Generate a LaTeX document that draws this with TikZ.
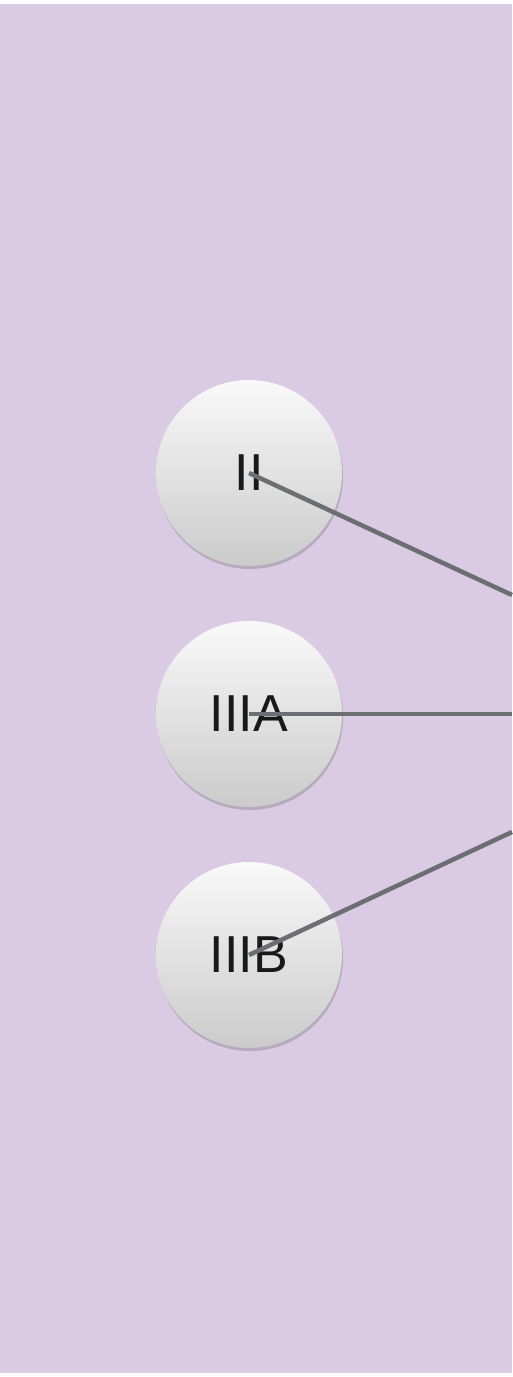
\documentclass[tikz,border=0pt]{standalone}
\usepackage{fontspec}
\setmainfont{Liberation Sans}
\usetikzlibrary{shadows}
\definecolor{bgc}{HTML}{DACAE4}
\definecolor{linec}{HTML}{6B6E73}
\definecolor{topc}{HTML}{F9F9F9}
\definecolor{botc}{HTML}{CBCBCB}
\tikzset{
  ball/.style={circle, minimum size=186pt, inner sep=0pt, top color=topc, bottom color=botc,
    drop shadow={shadow xshift=1pt, shadow yshift=-3pt, opacity=0.3, fill=black!60}},
  lbl/.style={font=\fontsize{52}{52}\selectfont, text=black!90},
  conn/.style={draw=linec, line width=4.5pt}
}
\begin{document}
\begin{tikzpicture}[x=1pt,y=-1pt]
\useasboundingbox (0,0) rectangle (512,1377);
\fill[white] (0,0) rectangle (512,1377);
\fill[bgc] (0,4) rectangle (512,1373);
\node[ball] (n1) at (249,473) {};
\node[ball] (n2) at (249,714) {};
\node[ball] (n3) at (249,955) {};
\node[lbl] at (n1) {II};
\node[lbl] at (n2) {IIIA};
\node[lbl] at (n3) {IIIB};
\coordinate (e1) at (512,595);
\coordinate (e2) at (512,714);
\coordinate (e3) at (512,832);
\draw[conn] (n1.center) -- (e1);
\draw[conn] (n2.center) -- (e2);
\draw[conn] (n3.center) -- (e3);
\end{tikzpicture}
\end{document}
